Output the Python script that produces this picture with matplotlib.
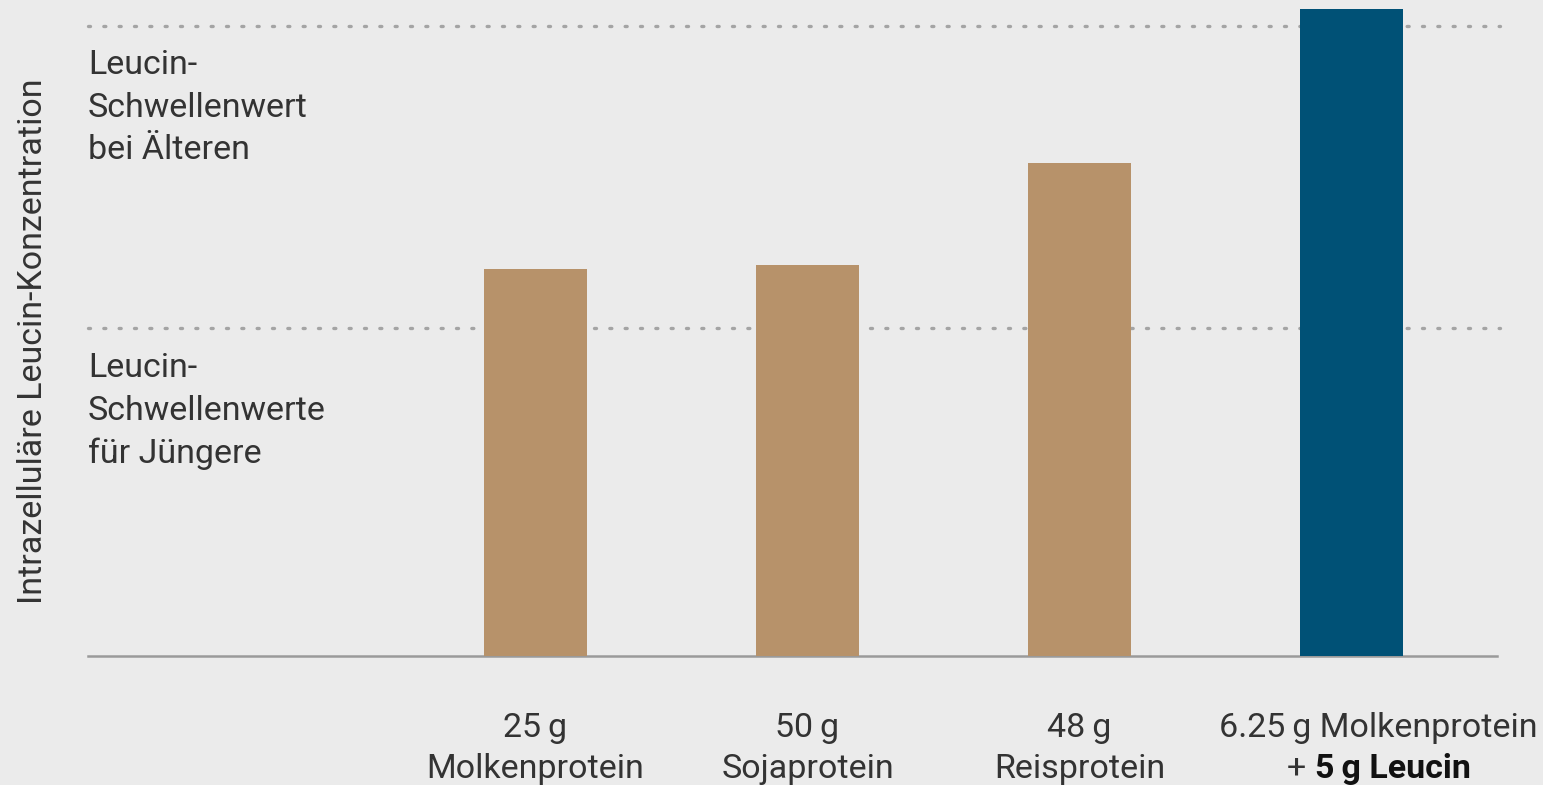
import matplotlib
matplotlib.use("Agg")
import matplotlib.pyplot as plt

plt.rcParams['font.family'] = ['Roboto', 'DejaVu Sans']

# Data
categories_top = ["25\u2009g", "50\u2009g", "48\u2009g", "6.25\u2009g Molkenprotein"]
categories_bottom = ["Molkenprotein", "Sojaprotein", "Reisprotein", ""]
values = [3.87, 3.91, 4.93, 6.47]
bar_colors = ["#b7926a", "#b7926a", "#b7926a", "#005176"]
threshold_young = 3.28
threshold_old = 6.30
threshold_labels = ["Leucin-\nSchwellenwerte\nfür Jüngere", "Leucin-\nSchwellenwert\nbei Älteren"]
ylabel = "Intrazelluläre Leucin-Konzentration"

BG = "#ebebeb"
TEXT = "#333333"
FS = 24.5

W, H = 1543, 785
fig = plt.figure(figsize=(W / 100, H / 100), dpi=100, facecolor=BG)
ax = fig.add_axes([88 / W, (H - 656) / H, (1497 - 88) / W, 656 / H])
ax.set_facecolor(BG)

x = [1, 2, 3, 4]
ax.bar(x, values, width=0.38, color=bar_colors, zorder=3)

ax.set_xlim(-0.645, 4.535)
ax.set_ylim(0, 6.56)

# Threshold dotted lines
for t in (threshold_young, threshold_old):
    ax.axhline(t, color="#a4a4a4", lw=2.4, ls=(0, (0.6, 4.0)),
               dash_capstyle="round", zorder=2, xmax=1.002, clip_on=False)

for s in ["top", "right", "left"]:
    ax.spines[s].set_visible(False)
ax.spines["bottom"].set_color("#9a9a9a")
ax.spines["bottom"].set_linewidth(1.8)
ax.set_xticks([])
ax.set_yticks([])

# Threshold annotations
ax.text(-0.645, threshold_young - 0.24, threshold_labels[0], ha="left", va="top",
        fontsize=FS, color=TEXT, linespacing=1.42)
ax.text(-0.645, threshold_old - 0.23, threshold_labels[1], ha="left", va="top",
        fontsize=FS, color=TEXT, linespacing=1.42)

# Category labels below the axis (the combined label sits a little right of its bar)
label_x = [1, 2, 3, 4.10]
for xi, top, bot in zip(label_x, categories_top, categories_bottom):
    ax.text(xi, -0.72, top, ha="center", va="center", fontsize=FS, color=TEXT)
    if bot:
        ax.text(xi, -1.13, bot, ha="center", va="center", fontsize=FS, color=TEXT)

# Mixed-weight second line for the last category
plus = ax.text(label_x[3], -1.13, "+ ", ha="right", va="center", fontsize=FS, color=TEXT)
bold_txt = ax.text(label_x[3], -1.13, "5\u2009g Leucin", ha="left", va="center",
                   fontsize=FS, color="#111111", fontweight="bold")
fig.canvas.draw()
r = fig.canvas.get_renderer()
bb_p = plus.get_window_extent(r)
bb_b = bold_txt.get_window_extent(r)
total = bb_p.width + bb_b.width
cx = ax.transData.transform((label_x[3], 0))[0]
inv = ax.transData.inverted()
split = cx - total / 2 + bb_p.width
plus.set_x(inv.transform((split, 0))[0])
bold_txt.set_x(inv.transform((split, 0))[0])

fig.text(33 / W, 1 - 341 / H, ylabel, rotation=90, ha="center", va="center",
         fontsize=FS, color=TEXT)

fig.savefig("out.png", dpi=100, facecolor=BG)
